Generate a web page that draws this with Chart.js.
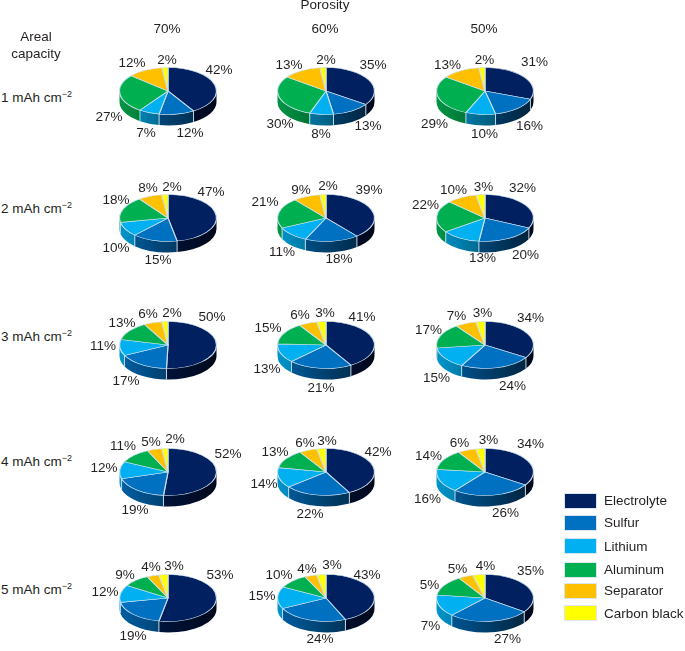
<!DOCTYPE html>
<html>
<head>
<meta charset="utf-8">
<script src="https://cdn.jsdelivr.net/npm/chart.js@4"></script>
<style>
html,body{margin:0;padding:0;background:#fff;width:685px;height:651px;overflow:hidden}
body{position:relative;font-family:"Liberation Sans",Arial,sans-serif;font-size:13.5px;color:#231f20}
.t{position:absolute;white-space:nowrap;line-height:16px}
.c{transform:translateX(-50%)}
canvas{position:absolute}
sup{font-size:9px;line-height:0;vertical-align:5px}
.sw{position:absolute;width:31px;height:14px;border:0.5px solid #dbe6f0}
</style>
</head>
<body>
<script>
const porosity = ["70%","60%","50%"];
const capacity = ["1","2","3","4","5"];
const seriesNames = ["Electrolyte","Sulfur","Lithium","Aluminum","Separator","Carbon black"];
const seriesColors = ["#002060","#0070c0","#00b0f0","#00b050","#ffc000","#ffff00"];

// One value per pie, row by row (capacity) and 70/60/50 % porosity across
const electrolyte = [42,35,31, 47,39,32, 50,41,34, 52,42,34, 53,43,35];
const sulfur      = [12,13,16, 15,18,20, 17,21,24, 19,22,26, 19,24,27];
const lithium     = [ 7, 8,10, 10,11,13, 11,13,15, 12,14,16, 12,15,15];
const aluminum    = [27,30,29, 18,21,22, 13,15,17, 11,13,14,  9,10,14];
const separator   = [12,13,13,  8, 9,10,  6, 6, 7,  5, 6, 6,  4, 4, 5];
const carbonBlack = [ 2, 2, 2,  2, 2, 3,  2, 3, 3,  2, 3, 3,  3, 3, 4];
const allSeries = [electrolyte,sulfur,lithium,aluminum,separator,carbonBlack];

// The printed figure shows these two labels differently from the slice size
const printedLabels = {"14-2":"7%","14-3":"5%"};

// Layout
const pieX = [168,326,484.5];
const pieY = [91,218,345,472,598];
const rowLabelY = [98,209,337,462,590];
const legendY = [493,515,538,562,583,605];
const legendTextY = [501,523,547,570,591,614];
const R = 48.5, RY = 23.5, DEPTH = 11, CW = 200, CH = 150;
const labelCenters = [
 [[219,70],[190,133],[146,133],[109,117],[132,63],[167,60]],
 [[373,65],[368,126],[321,134],[280,124],[289,65],[326,60]],
 [[534,62],[529,126],[484,134],[434,124],[447,65],[484,60]],
 [[211,192],[158,260],[116,248],[116,200],[148,188],[172,187]],
 [[369,190],[339,259],[282,252],[265,202],[301,190],[328,186]],
 [[522,188],[525,255],[482,258],[425,205],[453,190],[483,187]],
 [[212,317],[126,381],[103,346],[122,323],[148,314],[172,313]],
 [[362,317],[321,388],[267,369],[268,328],[300,315],[325,313]],
 [[530,318],[512,386],[436,378],[428,330],[456,316],[482,313]],
 [[228,454],[135,510],[104,468],[123,446],[151,442],[175,439]],
 [[378,452],[310,514],[264,484],[275,452],[305,443],[327,441]],
 [[530,444],[505,513],[427,499],[428,456],[459,443],[488,440]],
 [[220,575],[133,636],[105,592],[125,575],[151,567],[174,566]],
 [[367,575],[320,639],[262,596],[279,575],[307,569],[332,565]],
 [[530,571],[507,639],[430,626],[429,585],[457,569],[485,566]]
];

function addText(html,x,y,center){
  const d=document.createElement('div');
  d.className='t'+(center?' c':'');
  d.innerHTML=html; d.style.left=x+'px'; d.style.top=(y-8)+'px';
  document.body.appendChild(d);
}
function shade(hex,f){
  const n=parseInt(hex.slice(1),16);
  return `rgb(${((n>>16)&255)*f|0},${((n>>8)&255)*f|0},${(n&255)*f|0})`;
}

const pie3d = {
  id:'pie3d',
  beforeDatasetDraw(chart,args){
    const ctx=chart.ctx, arcs=args.meta.data;
    const cx=arcs[0].x, cy=arcs[0].y;
    arcs.forEach((arc,i)=>{
      const a0=Math.max(arc.startAngle,0), a1=Math.min(arc.endAngle,Math.PI);
      if(a1<=a0) return;
      const g=ctx.createLinearGradient(cx-R,0,cx+R,0);
      g.addColorStop(0,shade(seriesColors[i],0.85));
      g.addColorStop(1,shade(seriesColors[i],0.3));
      ctx.beginPath();
      ctx.ellipse(cx,cy,R,RY,0,a0,a1);
      ctx.ellipse(cx,cy+DEPTH,R,RY,0,a1,a0,true);
      ctx.closePath();
      ctx.fillStyle=g; ctx.fill();
    });
    // pale vertical seams where slices meet on the wall
    ctx.strokeStyle='rgba(205,225,240,.9)'; ctx.lineWidth=1;
    arcs.forEach(arc=>{
      const a=arc.endAngle;
      if(a>0 && a<Math.PI){
        const x=cx+R*Math.cos(a), y=cy+RY*Math.sin(a);
        ctx.beginPath(); ctx.moveTo(x,y); ctx.lineTo(x,y+DEPTH); ctx.stroke();
      }
    });
    ctx.save();
    ctx.translate(cx,cy); ctx.scale(1,RY/R); ctx.translate(-cx,-cy);
  },
  afterDatasetDraw(chart,args){
    chart.ctx.restore();
    const ctx=chart.ctx, o=chart.options.plugins.pie3d, arcs=args.meta.data;
    ctx.save();
    ctx.font='13.5px "Liberation Sans", Arial, sans-serif';
    ctx.fillStyle='#231f20'; ctx.textAlign='center'; ctx.textBaseline='middle';
    arcs.forEach((arc,i)=>{
      const txt=printedLabels[o.pie+'-'+i] || (allSeries[i][o.pie]+'%');
      ctx.fillText(txt,labelCenters[o.pie][i][0]-o.left,labelCenters[o.pie][i][1]-o.top);
    });
    ctx.restore();
  }
};

capacity.forEach((cap,r)=>{
  addText(cap+' mAh cm<sup>\u22122</sup>',1,rowLabelY[r],false);
  porosity.forEach((p,c)=>{
    const pie=r*3+c;
    const left=pieX[c]-CW/2, top=pieY[r]-CH/2;
    const cv=document.createElement('canvas');
    cv.width=CW; cv.height=CH;
    cv.style.left=left+'px'; cv.style.top=top+'px';
    cv.style.width=CW+'px'; cv.style.height=CH+'px';
    document.body.appendChild(cv);
    new Chart(cv,{
      type:'pie',
      data:{labels:seriesNames,datasets:[{
        data:allSeries.map(s=>s[pie]),
        backgroundColor:seriesColors,
        borderColor:'rgba(205,225,240,.95)',
        borderWidth:1.2,
        clip:false
      }]},
      options:{
        responsive:false,animation:false,devicePixelRatio:1,radius:R,
        layout:{padding:0},
        plugins:{legend:{display:false},tooltip:{enabled:false},pie3d:{pie,left,top}}
      },
      plugins:[pie3d]
    });
  });
});

addText('Porosity',325,5,true);
porosity.forEach((p,c)=>addText(p,[167,325,484][c],29,true));
addText('Areal',36,37,true);
addText('capacity',36,54,true);
seriesNames.forEach((n,i)=>{
  const s=document.createElement('div');
  s.className='sw'; s.style.left='564px'; s.style.top=legendY[i]+'px';
  s.style.background=seriesColors[i];
  document.body.appendChild(s);
  addText(n,604,legendTextY[i],false);
});
</script>
</body>
</html>
